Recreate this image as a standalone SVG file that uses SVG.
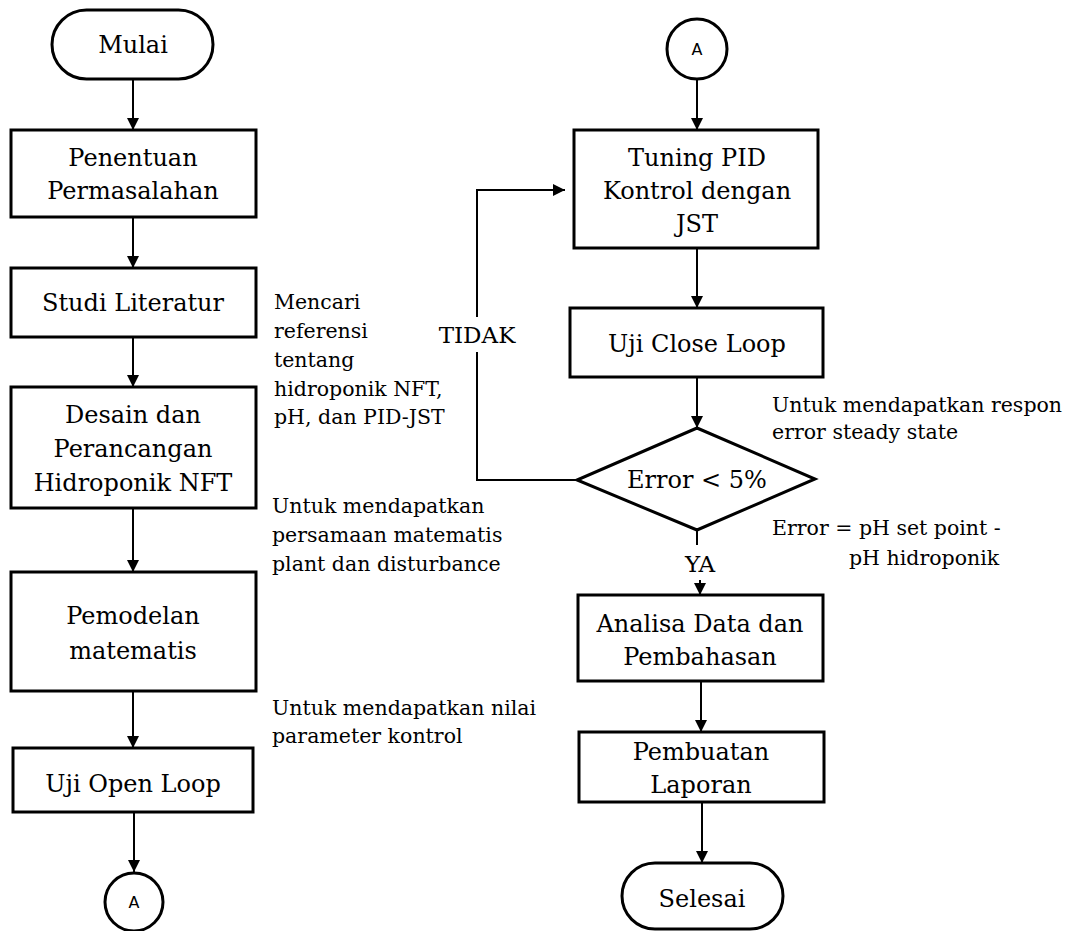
<svg xmlns="http://www.w3.org/2000/svg" width="1066" height="931" viewBox="0 0 1066 931">
  <style>
    .box { fill: #fff; stroke: #000; stroke-width: 3; }
    .conn { fill: none; stroke: #000; stroke-width: 2; }
    .t { font-family: "DejaVu Serif", "Liberation Serif", serif; font-size: 24px; fill: #000; text-anchor: middle; }
    .note { font-family: "DejaVu Serif", "Liberation Serif", serif; font-size: 20.5px; fill: #000; }
    .lbl { font-family: "DejaVu Serif", "Liberation Serif", serif; font-size: 23px; fill: #000; text-anchor: middle; }
    .ref { font-family: "DejaVu Sans", "Liberation Sans", sans-serif; font-size: 16px; fill: #000; text-anchor: middle; }
  </style>
  <defs>
    <marker id="arrow" viewBox="0 0 12 12" refX="12" refY="6" markerWidth="12" markerHeight="12" markerUnits="userSpaceOnUse" orient="auto">
      <path d="M0,0 L12,6 L0,12 Z" fill="#000"/>
    </marker>
  </defs>
  <rect width="1066" height="931" fill="#fff"/>

  <!-- connectors -->
  <g id="connectors">
    <line class="conn" x1="133" y1="79" x2="133" y2="130" marker-end="url(#arrow)"/>
    <line class="conn" x1="133" y1="217" x2="133" y2="268" marker-end="url(#arrow)"/>
    <line class="conn" x1="133" y1="337" x2="133" y2="387" marker-end="url(#arrow)"/>
    <line class="conn" x1="133" y1="508" x2="133" y2="572" marker-end="url(#arrow)"/>
    <line class="conn" x1="133" y1="691" x2="133" y2="748" marker-end="url(#arrow)"/>
    <line class="conn" x1="134" y1="812" x2="134" y2="872" marker-end="url(#arrow)"/>

    <line class="conn" x1="697" y1="80" x2="697" y2="130" marker-end="url(#arrow)"/>
    <line class="conn" x1="697" y1="248" x2="697" y2="308" marker-end="url(#arrow)"/>
    <line class="conn" x1="697" y1="377" x2="697" y2="428" marker-end="url(#arrow)"/>
    <!-- YES branch, broken around its label -->
    <line class="conn" x1="697" y1="530" x2="697" y2="545"/>
    <line class="conn" x1="700" y1="580" x2="700" y2="595" marker-end="url(#arrow)"/>
    <line class="conn" x1="701" y1="681" x2="701" y2="732" marker-end="url(#arrow)"/>
    <line class="conn" x1="702" y1="802" x2="702" y2="863" marker-end="url(#arrow)"/>
    <!-- NO branch loops back to tuning, broken around its label -->
    <polyline class="conn" points="577,480 477,480 477,352"/>
    <polyline class="conn" points="477,317 477,190 565,190" marker-end="url(#arrow)"/>
    <text class="lbl" x="477" y="343">TIDAK</text>
    <text class="lbl" x="700" y="572">YA</text>
  </g>

  <!-- left column -->
  <g id="mulai">
    <rect class="box" x="52" y="10" width="161" height="69" rx="34.5"/>
    <text class="t" x="133" y="53">Mulai</text>
  </g>
  <g id="penentuan">
    <rect class="box" x="11" y="130" width="245" height="87"/>
    <text class="t" x="133" y="166">Penentuan</text>
    <text class="t" x="133" y="199">Permasalahan</text>
  </g>
  <g id="studi">
    <rect class="box" x="11" y="268" width="245" height="69"/>
    <text class="t" x="133" y="311">Studi Literatur</text>
  </g>
  <g id="desain">
    <rect class="box" x="11" y="387" width="245" height="121"/>
    <text class="t" x="133" y="423">Desain dan</text>
    <text class="t" x="133" y="457">Perancangan</text>
    <text class="t" x="133" y="491">Hidroponik NFT</text>
  </g>
  <g id="pemodelan">
    <rect class="box" x="11" y="572" width="245" height="119"/>
    <text class="t" x="133" y="624">Pemodelan</text>
    <text class="t" x="133" y="659">matematis</text>
  </g>
  <g id="openloop">
    <rect class="box" x="13" y="748" width="240" height="64"/>
    <text class="t" x="133" y="792">Uji Open Loop</text>
  </g>
  <g id="conn-a-out">
    <circle class="box" cx="134" cy="902" r="29"/>
    <text class="ref" x="134" y="908">A</text>
  </g>

  <!-- side notes, left column -->
  <g id="note-literatur">
    <text class="note" x="274" y="309">Mencari</text>
    <text class="note" x="274" y="338">referensi</text>
    <text class="note" x="274" y="367">tentang</text>
    <text class="note" x="274" y="396">hidroponik NFT,</text>
    <text class="note" x="274" y="424">pH, dan PID-JST</text>
  </g>
  <g id="note-desain">
    <text class="note" x="272" y="513">Untuk mendapatkan</text>
    <text class="note" x="272" y="542">persamaan matematis</text>
    <text class="note" x="272" y="571">plant dan disturbance</text>
  </g>
  <g id="note-pemodelan">
    <text class="note" x="272" y="715">Untuk mendapatkan nilai</text>
    <text class="note" x="272" y="743">parameter kontrol</text>
  </g>

  <!-- right column -->
  <g id="conn-a-in">
    <circle class="box" cx="697" cy="49" r="30"/>
    <text class="ref" x="697" y="55">A</text>
  </g>
  <g id="tuning">
    <rect class="box" x="574" y="130" width="244" height="118"/>
    <text class="t" x="697" y="166">Tuning PID</text>
    <text class="t" x="697" y="199">Kontrol dengan</text>
    <text class="t" x="697" y="232">JST</text>
  </g>
  <g id="closeloop">
    <rect class="box" x="570" y="308" width="253" height="69"/>
    <text class="t" x="697" y="352">Uji Close Loop</text>
  </g>
  <g id="decision">
    <polygon class="box" points="697,428 815,479 697,530 577,480"/>
    <text class="t" x="697" y="488">Error &lt; 5%</text>
  </g>
  <g id="analisa">
    <rect class="box" x="578" y="595" width="245" height="86"/>
    <text class="t" x="700" y="632">Analisa Data dan</text>
    <text class="t" x="700" y="665">Pembahasan</text>
  </g>
  <g id="laporan">
    <rect class="box" x="579" y="732" width="245" height="70"/>
    <text class="t" x="701" y="760">Pembuatan</text>
    <text class="t" x="701" y="793">Laporan</text>
  </g>
  <g id="selesai">
    <rect class="box" x="622" y="863" width="161" height="66" rx="33"/>
    <text class="t" x="702" y="907">Selesai</text>
  </g>

  <!-- side notes, right column -->
  <g id="note-closeloop">
    <text class="note" x="772" y="412">Untuk mendapatkan respon</text>
    <text class="note" x="772" y="439">error steady state</text>
  </g>
  <g id="note-error">
    <text class="note" x="772" y="535">Error = pH set point -</text>
    <text class="note" x="849" y="565">pH hidroponik</text>
  </g>
</svg>
